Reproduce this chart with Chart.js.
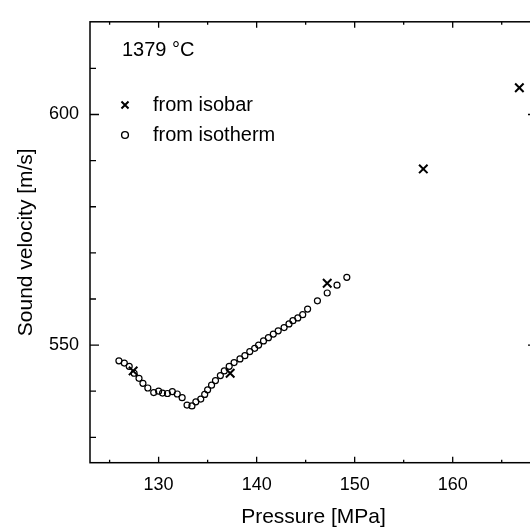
<!DOCTYPE html>
<html>
<head>
<meta charset="utf-8">
<script src="https://cdn.jsdelivr.net/npm/chart.js@4.4.0/dist/chart.umd.min.js"></script>
<style>
  html, body { margin:0; padding:0; background:#fff; overflow:hidden; width:530px; height:527px; }
  #wrap { position:absolute; left:0; top:0; width:545px; height:527px; }
</style>
</head>
<body>
<div id="wrap"><canvas id="c" width="545" height="527"></canvas></div>
<script>
// ---- data ----
const isobarP   = [127.4, 137.3, 147.2, 157.0, 166.8];
const isobarV   = [544.4, 543.9, 563.4, 588.2, 605.8];

const isothermP = [125.95,126.5,127.0,127.5,128.0,128.4,128.9,129.5,130.0,130.4,
                   130.9,131.4,131.9,132.4,132.9,133.4,133.8,134.3,134.7,135.0,
                   135.4,135.8,136.3,136.7,137.2,137.7,138.3,138.8,139.3,139.8,
                   140.2,140.7,141.2,141.7,142.2,142.8,143.3,143.7,144.2,144.7,
                   145.2,146.2,147.2,148.2,149.2];
const isothermV = [546.6,546.1,545.4,543.9,542.8,541.7,540.7,539.7,540.0,539.6,
                   539.5,539.9,539.4,538.6,537.0,536.8,537.7,538.3,539.3,540.3,
                   541.3,542.3,543.4,544.4,545.4,546.2,547.0,547.7,548.6,549.3,
                   550.0,550.9,551.6,552.4,553.1,553.8,554.6,555.3,555.9,556.6,
                   557.8,559.6,561.3,563.0,564.7];

const xTickLabels = [130, 140, 150, 160];
const xMinorTicks = [125, 135, 145, 155, 165];
const yTickLabels = [550, 600];
const yMinorTicks = [530, 540, 560, 570, 580, 590, 610];

const annotationText = '1379 °C';
const legendLabels = ['from isobar', 'from isotherm'];

const FONT = '"Liberation Sans", Arial, Helvetica, sans-serif';

const framePlugin = {
  id: 'frame',
  afterDatasetsDraw(chart) {
    const ctx = chart.ctx;
    const a = chart.chartArea;
    const xs = chart.scales.x, ys = chart.scales.y;
    ctx.save();
    ctx.strokeStyle = '#000';
    ctx.lineWidth = 1.5;
    ctx.strokeRect(a.left, a.top, a.right - a.left, a.bottom - a.top);
    ctx.lineWidth = 1.3;
    ctx.beginPath();
    const xt = (v, len) => {
      const px = xs.getPixelForValue(v);
      ctx.moveTo(px, a.bottom); ctx.lineTo(px, a.bottom - len);
      ctx.moveTo(px, a.top); ctx.lineTo(px, a.top + len);
    };
    const yt = (v, len) => {
      const py = ys.getPixelForValue(v);
      ctx.moveTo(a.left, py); ctx.lineTo(a.left + len, py);
      ctx.moveTo(a.right, py); ctx.lineTo(a.right - len, py);
    };
    xTickLabels.forEach(v => xt(v, 6));
    xMinorTicks.forEach(v => xt(v, 3));
    yTickLabels.forEach(v => yt(v, 9));
    yMinorTicks.forEach(v => yt(v, 6));
    ctx.stroke();

    // annotation + legend
    ctx.fillStyle = '#000';
    ctx.font = '20px ' + FONT;
    ctx.textBaseline = 'middle';
    ctx.textAlign = 'left';
    ctx.fillText(annotationText, 122, 50);
    ctx.fillText(legendLabels[0], 153, 105);
    ctx.fillText(legendLabels[1], 153, 135);
    ctx.fillStyle = 'rgba(0,0,0,0)';
    ctx.lineWidth = 2;
    Chart.helpers.drawPoint(ctx, {pointStyle: 'crossRot', radius: 5, borderWidth: 2}, 125, 105);
    ctx.lineWidth = 1.4;
    Chart.helpers.drawPoint(ctx, {pointStyle: 'circle', radius: 3.4, borderWidth: 1.4}, 125, 135);
    ctx.restore();
  }
};

const ctx = document.getElementById('c').getContext('2d');
new Chart(ctx, {
  type: 'scatter',
  data: {
    datasets: [
      {
        label: legendLabels[0],
        data: isobarP.map((p, i) => ({x: p, y: isobarV[i]})),
        pointStyle: 'crossRot',
        pointRadius: 6,
        pointBorderWidth: 2,
        borderColor: '#000',
        backgroundColor: '#000'
      },
      {
        label: legendLabels[1],
        data: isothermP.map((p, i) => ({x: p, y: isothermV[i]})),
        pointStyle: 'circle',
        pointRadius: 3.0,
        pointBorderWidth: 1.2,
        borderColor: '#000',
        backgroundColor: 'rgba(0,0,0,0)'
      }
    ]
  },
  options: {
    responsive: false,
    animation: false,
    events: [],
    layout: { padding: { top: 15, right: 8, left: 0, bottom: 0 } },
    plugins: { legend: { display: false }, tooltip: { enabled: false } },
    scales: {
      x: {
        type: 'linear',
        min: 123, max: 168.6,
        grid: { display: false, drawTicks: false },
        border: { display: false },
        afterBuildTicks: s => { s.ticks = xTickLabels.map(v => ({value: v})); },
        afterFit: s => { s.height = 64.3; },
        ticks: { color: '#000', font: { family: FONT, size: 18 }, padding: 12, maxRotation: 0, autoSkip: false },
        title: { display: true, text: 'Pressure [MPa]', color: '#000', font: { family: FONT, size: 21 }, padding: { top: 0, bottom: -3 } }
      },
      y: {
        type: 'linear',
        min: 524.5, max: 620.1,
        grid: { display: false, drawTicks: false },
        border: { display: false },
        afterBuildTicks: s => { s.ticks = yTickLabels.map(v => ({value: v})); },
        afterFit: s => { s.width = 90; },
        ticks: { color: '#000', font: { family: FONT, size: 18 }, padding: 11, autoSkip: false },
        title: { display: true, text: 'Sound velocity [m/s]', color: '#000', font: { family: FONT, size: 21 }, padding: { top: 14, bottom: 0 } }
      }
    }
  },
  plugins: [framePlugin]
});
</script>
</body>
</html>
